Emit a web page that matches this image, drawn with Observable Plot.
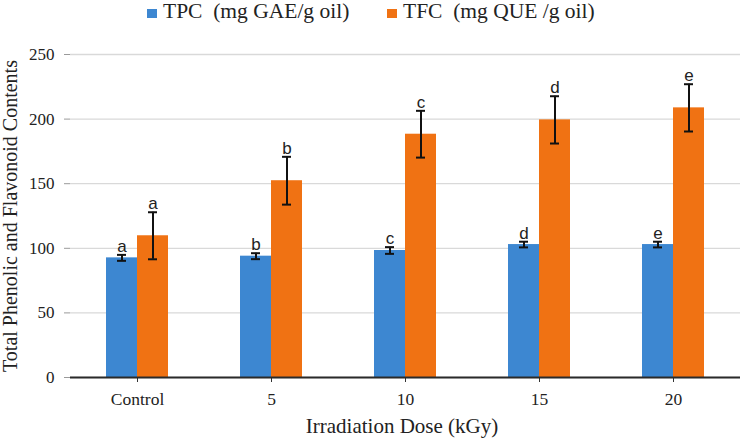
<!DOCTYPE html>
<html>
<head>
<meta charset="utf-8">
<script src="https://cdn.jsdelivr.net/npm/d3@7"></script>
<script src="https://cdn.jsdelivr.net/npm/@observablehq/plot@0.6"></script>
<style>
  html, body { margin: 0; padding: 0; background: #fff; }
  #chart { position: relative; width: 744px; height: 442px; font-family: "Liberation Serif", serif; color: #222; }
  #chart g[aria-label="y-axis tick label"],
  #chart g[aria-label="y-axis tick label"] text { font-family: "Liberation Serif", serif !important; }
  .legend .sw { position: absolute; top: 9px; width: 10px; height: 9px; }
  .legend .lab { position: absolute; top: 1px; font-size: 21.5px; line-height: 1; white-space: pre; }
  .xlabel { position: absolute; left: 62px; top: 414px; width: 680px; text-align: center; font-size: 21px; }
</style>
</head>
<body>
<div id="chart"></div>
<script>
// Irradiation dose groups (x categories)
const doses = ["Control", "5", "10", "15", "20"];
// Series names and legend labels
const series = ["TPC", "TFC"];
const seriesLabels = ["TPC  (mg GAE/g oil)", "TFC  (mg QUE /g oil)"];
const seriesColors = ["#3d87d1", "#f07213"];
// Means, standard deviations and significance letters per dose
const tpcValues = [92.6, 93.9, 98.3, 102.9, 102.9];
const tpcErrors = [2.3, 2.3, 2.6, 2.2, 2.2];
const tpcLetters = ["a", "b", "c", "d", "e"];
const tfcValues = [109.7, 152.3, 188.3, 199.4, 208.7];
const tfcErrors = [18.2, 18.5, 18.1, 18.3, 18.3];
const tfcLetters = ["a", "b", "c", "d", "e"];
const yTicks = [0, 50, 100, 150, 200, 250];

const rows = [];
doses.forEach((dose, i) => {
  rows.push({dose, series: "TPC", value: tpcValues[i], err: tpcErrors[i], letter: tpcLetters[i]});
  rows.push({dose, series: "TFC", value: tfcValues[i], err: tfcErrors[i], letter: tfcLetters[i]});
});

const serif = "Liberation Serif, serif";

const chart = Plot.plot({
  width: 744,
  height: 442,
  marginLeft: 70,
  marginRight: 4,
  marginTop: 54,
  marginBottom: 65,
  style: "font-family: 'Liberation Serif', serif; font-size: 17px; color: #222; background: #fff; overflow: visible;",
  fx: {domain: doses, padding: 0, label: null},
  x: {domain: series, paddingInner: 0, paddingOuter: 1.13, axis: null},
  y: {domain: [0, 250]},
  color: {domain: series, range: seriesColors},
  marks: [
    Plot.gridY(yTicks, {stroke: "#d9d9d9", strokeOpacity: 1, strokeWidth: 1.3}),
    Plot.axisY(yTicks, {
      tickSize: 6, tickPadding: 10, stroke: "#9a9a9a", fontSize: 17, fontFamily: serif, label: null
    }),
    Plot.axisY({
      ticks: [], tickSize: 0, fontSize: 20, fontFamily: serif,
      label: "Total Phenolic and Flavonoid Contents", labelAnchor: "center", labelArrow: "none", labelOffset: 68
    }),
    Plot.axisFx({anchor: "bottom", tickSize: 5, tickPadding: 10, fontSize: 17.5, fontFamily: serif, stroke: "#333", label: null}),
    Plot.barY(rows, {fx: "dose", x: "series", y: "value", fill: "series"}),
    Plot.ruleX(rows, {fx: "dose", x: "series", y1: d => d.value - d.err, y2: d => d.value + d.err, stroke: "#111", strokeWidth: 2}),
    Plot.tickY(rows, {fx: "dose", x: "series", y: d => d.value - d.err, stroke: "#111", strokeWidth: 2, insetLeft: 11, insetRight: 11}),
    Plot.tickY(rows, {fx: "dose", x: "series", y: d => d.value + d.err, stroke: "#111", strokeWidth: 2, insetLeft: 11, insetRight: 11}),
    Plot.text(rows, {fx: "dose", x: "series", y: d => d.value + d.err, text: "letter", lineAnchor: "bottom", dy: -3, fontSize: 17, fontFamily: "Liberation Sans, sans-serif", fill: "#222"}),
    Plot.ruleY([0], {stroke: "#2a2a2a", strokeWidth: 2})
  ]
});

const root = document.getElementById("chart");
root.appendChild(chart);

// Legend row above the plot
const legend = document.createElement("div");
legend.className = "legend";
const swatchLefts = [147, 387];
const labelLefts = [163, 403];
series.forEach((s, i) => {
  const sw = document.createElement("div");
  sw.className = "sw";
  sw.style.left = swatchLefts[i] + "px";
  sw.style.background = seriesColors[i];
  const label = document.createElement("div");
  label.className = "lab";
  label.style.left = labelLefts[i] + "px";
  label.textContent = seriesLabels[i];
  legend.appendChild(sw);
  legend.appendChild(label);
});
root.appendChild(legend);

// x-axis title
const xl = document.createElement("div");
xl.className = "xlabel";
xl.textContent = "Irradiation Dose (kGy)";
root.appendChild(xl);
</script>
</body>
</html>
